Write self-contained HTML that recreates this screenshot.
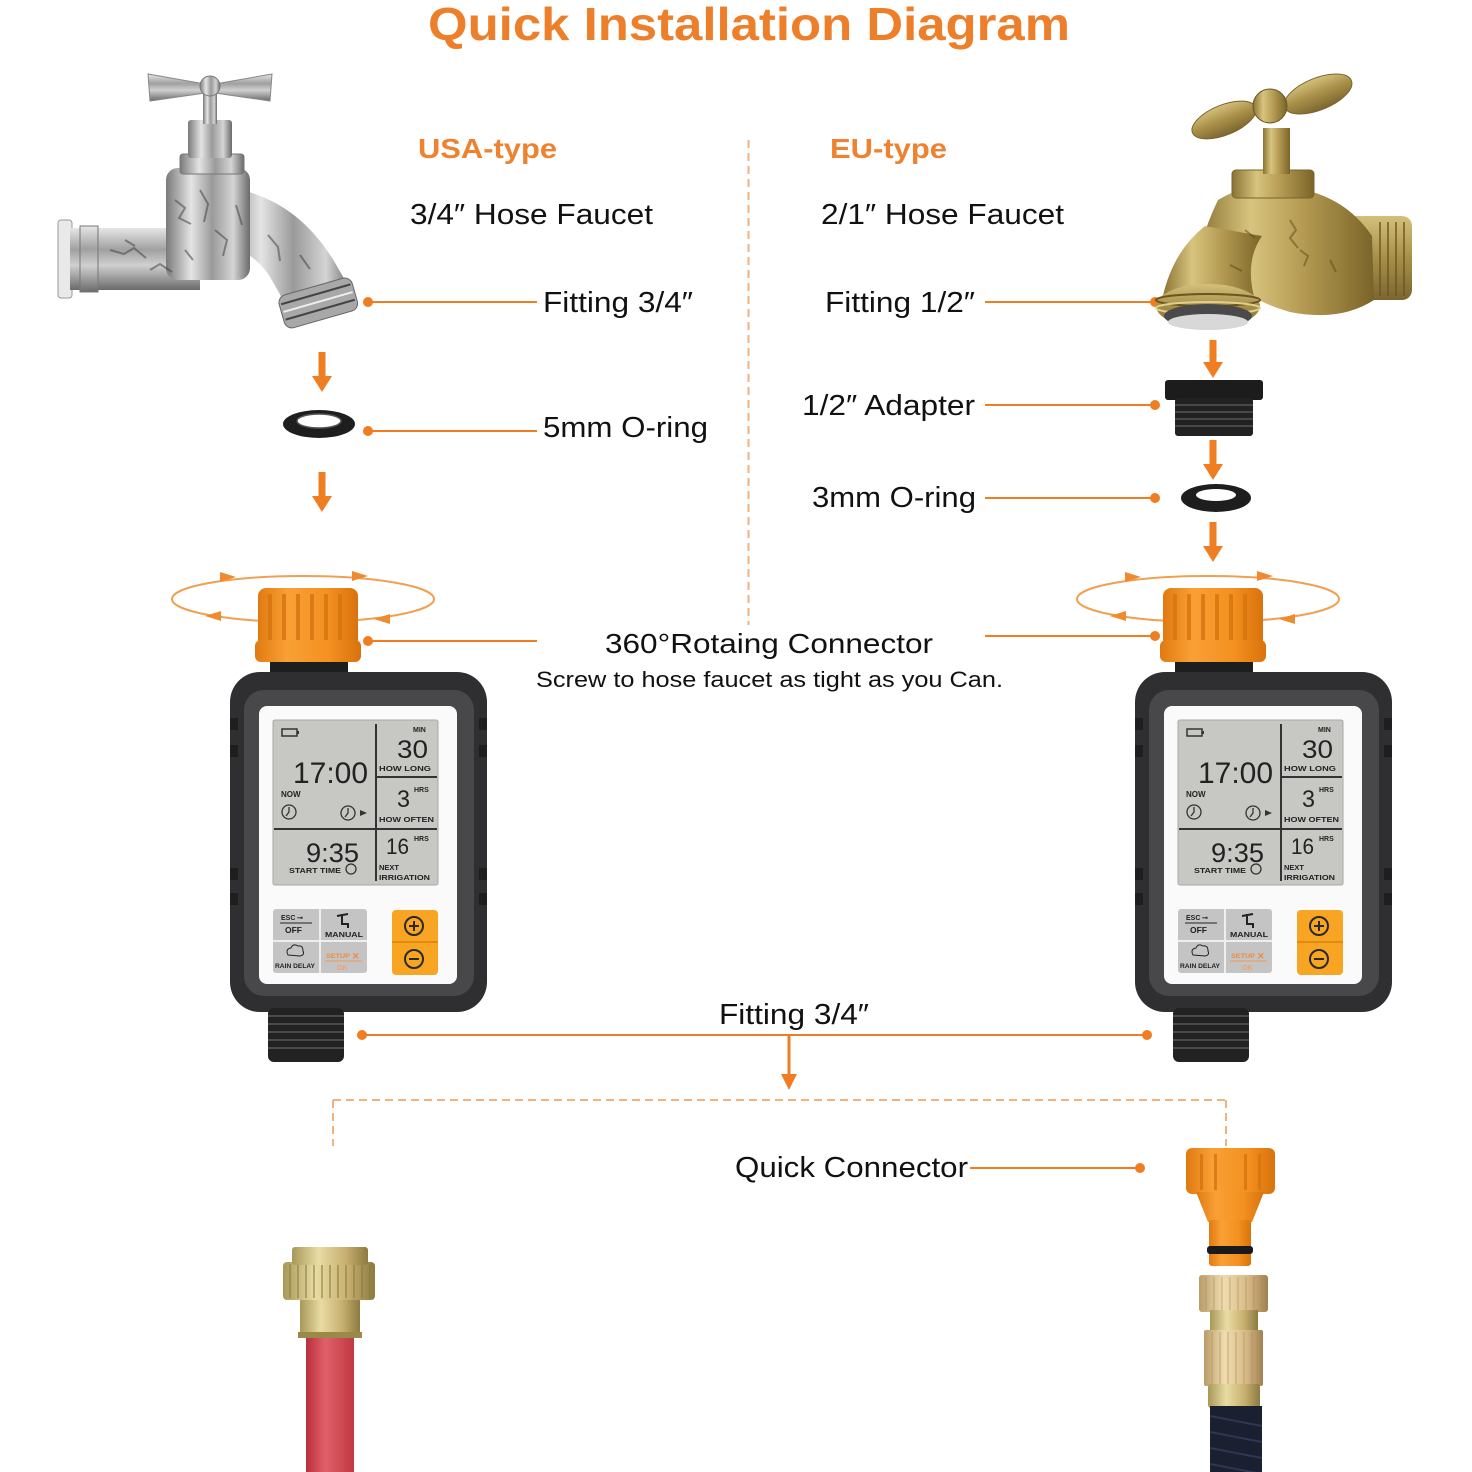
<!DOCTYPE html>
<html><head><meta charset="utf-8"><style>
html,body{margin:0;padding:0;background:#fff;}
svg{display:block;}
text{font-family:"Liberation Sans",Arial,sans-serif;}
</style></head><body>
<svg width="1472" height="1472" viewBox="0 0 1472 1472" xmlns="http://www.w3.org/2000/svg">
<defs>
<linearGradient id="chv" x1="0" y1="0" x2="0" y2="1">
<stop offset="0" stop-color="#e6e6e6"/><stop offset="0.35" stop-color="#a0a0a0"/><stop offset="0.6" stop-color="#d0d0d0"/><stop offset="1" stop-color="#6a6a6a"/></linearGradient>
<linearGradient id="chh" x1="0" y1="0" x2="1" y2="0">
<stop offset="0" stop-color="#7a7a7a"/><stop offset="0.3" stop-color="#e4e4e4"/><stop offset="0.55" stop-color="#9a9a9a"/><stop offset="0.8" stop-color="#d4d4d4"/><stop offset="1" stop-color="#6a6a6a"/></linearGradient>
<linearGradient id="brh" x1="0" y1="0" x2="1" y2="0">
<stop offset="0" stop-color="#8a7233"/><stop offset="0.3" stop-color="#d8c47e"/><stop offset="0.6" stop-color="#b49a52"/><stop offset="1" stop-color="#7a6428"/></linearGradient>
<linearGradient id="brv" x1="0" y1="0" x2="0" y2="1">
<stop offset="0" stop-color="#d4c07c"/><stop offset="0.5" stop-color="#a88f48"/><stop offset="1" stop-color="#7c6630"/></linearGradient>
<linearGradient id="nut" x1="0" y1="0" x2="1" y2="0">
<stop offset="0" stop-color="#e07a10"/><stop offset="0.3" stop-color="#f9a035"/><stop offset="0.7" stop-color="#f39020"/><stop offset="1" stop-color="#d9720c"/></linearGradient>
<linearGradient id="gold" x1="0" y1="0" x2="1" y2="0">
<stop offset="0" stop-color="#a89858"/><stop offset="0.35" stop-color="#e8dca4"/><stop offset="0.7" stop-color="#c8b070"/><stop offset="1" stop-color="#8c7a40"/></linearGradient>
<linearGradient id="tan" x1="0" y1="0" x2="1" y2="0">
<stop offset="0" stop-color="#b89c68"/><stop offset="0.35" stop-color="#f0dcb0"/><stop offset="0.7" stop-color="#d8bc88"/><stop offset="1" stop-color="#a08050"/></linearGradient>
<linearGradient id="red" x1="0" y1="0" x2="1" y2="0">
<stop offset="0" stop-color="#b8303c"/><stop offset="0.4" stop-color="#e0606a"/><stop offset="1" stop-color="#c03842"/></linearGradient>
</defs>

<!-- Title -->
<text x="428" y="40" font-size="46" font-weight="bold" fill="#ee7f2a" textLength="642" lengthAdjust="spacingAndGlyphs">Quick Installation Diagram</text>

<!-- Subtitles -->
<text x="418" y="158" font-size="28" font-weight="bold" fill="#ee8230" textLength="139" lengthAdjust="spacingAndGlyphs">USA-type</text>
<text x="830" y="158" font-size="28" font-weight="bold" fill="#ee8230" textLength="117" lengthAdjust="spacingAndGlyphs">EU-type</text>
<text x="410" y="224" font-size="29" fill="#111" textLength="243" lengthAdjust="spacingAndGlyphs">3/4″ Hose Faucet</text>
<text x="821" y="224" font-size="29" fill="#111" textLength="243" lengthAdjust="spacingAndGlyphs">2/1″ Hose Faucet</text>

<!-- divider -->
<line x1="748.5" y1="140" x2="748.5" y2="625" stroke="#f0b080" stroke-width="2" stroke-dasharray="8,5"/>

<!-- Labels -->
<g font-size="29" fill="#111">
<text x="543" y="312" textLength="150" lengthAdjust="spacingAndGlyphs">Fitting 3/4″</text>
<text x="543" y="437" textLength="165" lengthAdjust="spacingAndGlyphs">5mm O-ring</text>
<text x="825" y="312" textLength="150" lengthAdjust="spacingAndGlyphs">Fitting 1/2″</text>
<text x="802" y="415" textLength="173" lengthAdjust="spacingAndGlyphs">1/2″ Adapter</text>
<text x="812" y="507" textLength="164" lengthAdjust="spacingAndGlyphs">3mm O-ring</text>
<text x="605" y="653" font-size="28" textLength="328" lengthAdjust="spacingAndGlyphs">360°Rotaing Connector</text>
<text x="536" y="687" font-size="22" textLength="467" lengthAdjust="spacingAndGlyphs">Screw to hose faucet as tight as you Can.</text>
<text x="719" y="1024" textLength="150" lengthAdjust="spacingAndGlyphs">Fitting 3/4″</text>
<text x="735" y="1177" textLength="233" lengthAdjust="spacingAndGlyphs">Quick Connector</text>
</g>

<!-- leader lines -->
<g stroke="#ef7d22" stroke-width="2" fill="#ef7d22">
<line x1="368" y1="302" x2="537" y2="302"/><circle cx="368" cy="302" r="5" stroke="none"/>
<line x1="368" y1="431" x2="537" y2="431"/><circle cx="368" cy="431" r="5" stroke="none"/>
<line x1="985" y1="302" x2="1155" y2="302"/><circle cx="1155" cy="302" r="5" stroke="none"/>
<line x1="985" y1="405" x2="1155" y2="405"/><circle cx="1155" cy="405" r="5" stroke="none"/>
<line x1="985" y1="498" x2="1155" y2="498"/><circle cx="1155" cy="498" r="5" stroke="none"/>
<line x1="368" y1="641" x2="537" y2="641"/><circle cx="368" cy="641" r="5" stroke="none"/>
<line x1="985" y1="636" x2="1155" y2="636"/><circle cx="1155" cy="636" r="5" stroke="none"/>
<line x1="362" y1="1035" x2="1147" y2="1035"/><circle cx="362" cy="1035" r="5" stroke="none"/><circle cx="1147" cy="1035" r="5" stroke="none"/>
<line x1="970" y1="1168" x2="1140" y2="1168"/><circle cx="1140" cy="1168" r="5" stroke="none"/>
</g>

<!-- arrows -->
<g fill="#ef7d22">
<rect x="318.5" y="352" width="7" height="26"/><polygon points="312,376 332,376 322,392"/>
<rect x="318.5" y="472" width="7" height="26"/><polygon points="312,496 332,496 322,512"/>
<rect x="1209.5" y="340" width="7" height="24"/><polygon points="1203,362 1223,362 1213,378"/>
<rect x="1209.5" y="440" width="7" height="26"/><polygon points="1203,464 1223,464 1213,480"/>
<rect x="1209.5" y="522" width="7" height="26"/><polygon points="1203,546 1223,546 1213,562"/>
<rect x="787.5" y="1036" width="3" height="42"/><polygon points="781,1074 797,1074 789,1090"/>
</g>

<!-- dashed bracket -->
<g stroke="#f2b27c" stroke-width="2" stroke-dasharray="8,5" fill="none">
<line x1="333" y1="1100" x2="1226" y2="1100"/>
<line x1="333" y1="1100" x2="333" y2="1146"/>
<line x1="1226" y1="1100" x2="1226" y2="1146"/>
</g>

<!-- Silver faucet -->
<g>
<rect x="58" y="220" width="14" height="78" rx="3" fill="#e9e9e9" stroke="#9a9a9a"/>
<rect x="70" y="228" width="130" height="62" fill="url(#chv)"/>
<rect x="80" y="226" width="18" height="66" fill="url(#chv)" stroke="#777" stroke-width="1"/>
<path d="M 232 188 Q 300 200 338 268 L 352 292 L 290 312 L 274 284 Q 258 252 222 244 Z" fill="url(#chh)"/>
<rect x="166" y="168" width="84" height="112" rx="12" fill="url(#chh)"/>
<path d="M 175 200 l 10 8 l -6 10 l 12 6 M 200 190 l 8 14 l -4 18 M 215 230 l 12 10 l -4 16 M 236 205 l 6 20 M 110 250 l 14 4 l 10 -6 l 12 10 M 150 270 l 10 -6 l 12 8 M 268 235 l 10 12 l 2 14 M 300 255 l 10 14 M 185 250 l 8 10 M 125 240 l 10 6" stroke="#444" stroke-width="2" fill="none" opacity="0.55"/>
<g transform="rotate(-16 318 302)">
<rect x="280" y="286" width="76" height="34" rx="8" fill="#a8a8a8" stroke="#666"/>
<line x1="282" y1="294" x2="354" y2="294" stroke="#444" stroke-width="2"/>
<line x1="282" y1="302" x2="354" y2="302" stroke="#eee" stroke-width="2"/>
<line x1="282" y1="310" x2="354" y2="310" stroke="#444" stroke-width="2"/>
</g>
<rect x="180" y="154" width="64" height="20" rx="3" fill="url(#chh)" stroke="#777"/>
<rect x="188" y="120" width="44" height="38" rx="3" fill="url(#chh)"/>
<rect x="203" y="92" width="14" height="32" fill="url(#chh)"/>
<path d="M 148 74 L 150 101 L 205 93 L 215 93 L 270 101 L 272 74 L 215 84 L 205 84 Z" fill="url(#chv)" stroke="#888"/>
<circle cx="210" cy="86" r="10" fill="url(#chh)" stroke="#777"/>
</g>

<!-- O-ring left -->
<ellipse cx="319" cy="424" rx="36" ry="14" fill="#1e1e1e"/>
<ellipse cx="319" cy="421" rx="22" ry="7" fill="#fff"/>
<ellipse cx="319" cy="421" rx="22" ry="7" fill="none" stroke="#555" stroke-width="1.5"/>

<!-- Brass faucet -->
<g>
<rect x="1322" y="216" width="90" height="84" rx="10" fill="url(#brv)"/>
<g stroke="#6a5520" stroke-width="2" opacity="0.7">
<line x1="1380" y1="222" x2="1380" y2="296"/><line x1="1388" y1="222" x2="1388" y2="296"/><line x1="1396" y1="222" x2="1396" y2="296"/><line x1="1404" y1="222" x2="1404" y2="296"/>
</g>
<path d="M 1218 200 Q 1250 180 1295 188 Q 1345 196 1372 236 L 1374 300 Q 1340 322 1290 312 Q 1262 304 1246 292 L 1200 300 Q 1190 258 1218 200 Z" fill="url(#brh)"/>
<path d="M 1205 226 Q 1172 252 1162 300 L 1255 300 Q 1244 262 1262 236 Z" fill="url(#brh)"/>
<path d="M 1290 220 l 6 10 l -6 8 l 8 10 M 1300 250 l 8 6 l -4 10 M 1245 230 l 10 8 M 1230 265 l 12 6 M 1330 260 l 6 12" stroke="#5a4818" stroke-width="2" fill="none" opacity="0.5"/>
<ellipse cx="1208" cy="306" rx="52" ry="22" fill="url(#brv)"/>
<ellipse cx="1208" cy="300" rx="52" ry="6" fill="none" stroke="#6a5520" stroke-width="2"/>
<ellipse cx="1208" cy="308" rx="52" ry="6" fill="none" stroke="#e0d090" stroke-width="2"/>
<ellipse cx="1208" cy="316" rx="44" ry="12" fill="#4a4a4a"/>
<ellipse cx="1208" cy="322" rx="40" ry="8" fill="#d8d8d8"/>
<rect x="1232" y="170" width="82" height="28" rx="4" fill="url(#brh)" stroke="#7a6428"/>
<rect x="1263" y="128" width="27" height="46" fill="url(#brh)"/>
<ellipse cx="1224" cy="120" rx="34" ry="15" transform="rotate(-22 1224 120)" fill="url(#brv)" stroke="#7a6428"/>
<ellipse cx="1318" cy="94" rx="36" ry="16" transform="rotate(-22 1318 94)" fill="url(#brv)" stroke="#7a6428"/>
<circle cx="1270" cy="106" r="17" fill="url(#brh)" stroke="#6a5520"/>
</g>

<!-- Adapter -->
<rect x="1165" y="380" width="98" height="20" rx="3" fill="#1c1c1c"/>
<rect x="1175" y="398" width="78" height="38" rx="3" fill="#222"/>
<g stroke="#555" stroke-width="1.5">
<line x1="1175" y1="405" x2="1253" y2="405"/><line x1="1175" y1="412" x2="1253" y2="412"/><line x1="1175" y1="419" x2="1253" y2="419"/><line x1="1175" y1="426" x2="1253" y2="426"/>
</g>
<!-- O-ring right -->
<ellipse cx="1216" cy="498" rx="35" ry="14" fill="#1e1e1e"/>
<ellipse cx="1216" cy="495" rx="20" ry="6" fill="#fff"/>

<!-- Rotation ellipses -->
<g stroke="#f0a050" stroke-width="2" fill="none">
<ellipse cx="303" cy="599" rx="131" ry="23"/>
<ellipse cx="1208" cy="599" rx="131" ry="23"/>
</g>
<g fill="#ef8a2e">
<polygon points="220,572 236,577 220,582"/>
<polygon points="352,571 368,576 352,581"/>
<polygon points="221,611 205,616 221,621"/>
<polygon points="390,614 374,619 390,624"/>
<polygon points="1125,572 1141,577 1125,582"/>
<polygon points="1257,571 1273,576 1257,581"/>
<polygon points="1126,611 1110,616 1126,621"/>
<polygon points="1295,614 1279,619 1295,624"/>
</g>

<!-- Timer left -->
<g>
<rect x="270" y="655" width="78" height="20" fill="#1e1e1e"/>
<rect x="258" y="588" width="100" height="60" rx="8" fill="url(#nut)"/>
<rect x="255" y="640" width="106" height="22" rx="6" fill="url(#nut)"/>
<g fill="#d67410" opacity="0.8">
<rect x="268" y="594" width="4" height="46"/><rect x="282" y="594" width="4" height="46"/><rect x="296" y="594" width="4" height="46"/><rect x="310" y="594" width="4" height="46"/><rect x="324" y="594" width="4" height="46"/><rect x="338" y="594" width="4" height="46"/>
</g>
<rect x="230" y="672" width="257" height="340" rx="30" fill="#2f2f31"/>
<rect x="244" y="690" width="230" height="306" rx="20" fill="#48484a"/>
<g fill="#1e1e1e">
<rect x="230" y="718" width="8" height="12"/><rect x="230" y="745" width="8" height="12"/><rect x="230" y="868" width="8" height="12"/><rect x="230" y="893" width="8" height="12"/>
<rect x="479" y="718" width="8" height="12"/><rect x="479" y="745" width="8" height="12"/><rect x="479" y="868" width="8" height="12"/><rect x="479" y="893" width="8" height="12"/>
</g>
<rect x="259" y="706" width="198" height="278" rx="8" fill="#fafafa"/>
<rect x="273" y="720" width="165" height="165" rx="2" fill="#c7c8c4" stroke="#a8a8a4"/>
<g stroke="#333" stroke-width="2">
<line x1="376" y1="724" x2="376" y2="881"/>
<line x1="376" y1="777" x2="437" y2="777"/>
<line x1="274" y1="829" x2="437" y2="829"/>
</g>
<rect x="282" y="729" width="15" height="7" fill="none" stroke="#333" stroke-width="1.5"/>
<rect x="297" y="731" width="2" height="3" fill="#333"/>
<g fill="#222" font-family="'DejaVu Sans Mono','Liberation Mono',monospace">
<text x="293" y="783" font-size="30" textLength="75" lengthAdjust="spacingAndGlyphs">17:00</text>
<text x="397" y="758" font-size="25" textLength="31" lengthAdjust="spacingAndGlyphs">30</text>
<text x="397" y="807" font-size="24" textLength="13" lengthAdjust="spacingAndGlyphs">3</text>
<text x="306" y="862" font-size="27" textLength="53" lengthAdjust="spacingAndGlyphs">9:35</text>
<text x="386" y="854" font-size="22" textLength="23" lengthAdjust="spacingAndGlyphs">16</text>
</g>
<g fill="#222" font-weight="bold">
<text x="281" y="797" font-size="8">NOW</text>
<text x="413" y="732" font-size="7">MIN</text>
<text x="379" y="771" font-size="7.5" textLength="52" lengthAdjust="spacingAndGlyphs">HOW LONG</text>
<text x="414" y="792" font-size="7">HRS</text>
<text x="379" y="822" font-size="7.5" textLength="55" lengthAdjust="spacingAndGlyphs">HOW OFTEN</text>
<text x="414" y="841" font-size="7">HRS</text>
<text x="379" y="870" font-size="7.5">NEXT</text>
<text x="379" y="880" font-size="7.5" textLength="51" lengthAdjust="spacingAndGlyphs">IRRIGATION</text>
<text x="289" y="873" font-size="7.5" textLength="52" lengthAdjust="spacingAndGlyphs">START TIME</text>
</g>
<g fill="none" stroke="#333" stroke-width="1.3">
<circle cx="289" cy="812" r="7"/><path d="M 289 807 L 289 812 L 286 816"/>
<circle cx="348" cy="813" r="7"/><path d="M 348 808 L 348 813 L 345 817"/>
<circle cx="351" cy="869" r="5"/>
</g>
<polygon points="360,810 367,813 360,816" fill="#333"/>
<rect x="273" y="909" width="94" height="64" rx="3" fill="#c4c4c4"/>
<line x1="320" y1="909" x2="320" y2="973" stroke="#eee" stroke-width="2"/>
<line x1="273" y1="941" x2="367" y2="941" stroke="#eee" stroke-width="2"/>
<g font-weight="bold" fill="#222">
<text x="281" y="920" font-size="7">ESC</text>
<text x="297" y="920" font-size="7">⊸</text>
<line x1="280" y1="923" x2="312" y2="923" stroke="#222" stroke-width="1"/>
<text x="285" y="933" font-size="8.5">OFF</text>
<text x="325" y="937" font-size="7" textLength="38" lengthAdjust="spacingAndGlyphs">MANUAL</text>
<text x="275" y="968" font-size="6" textLength="40" lengthAdjust="spacingAndGlyphs">RAIN DELAY</text>
<text x="326" y="958" font-size="6" fill="#ef8a40" textLength="24" lengthAdjust="spacingAndGlyphs">SETUP</text>
<text x="352" y="959" font-size="9" fill="#ef8a40">✕</text>
<line x1="325" y1="961" x2="362" y2="961" stroke="#ef9a5a" stroke-width="1"/>
<text x="337" y="970" font-size="7" fill="#f0a070">OK</text>
</g>
<path d="M 337 916 L 348 914 M 342 914 L 342 924 L 348 924 L 348 928" stroke="#222" stroke-width="2" fill="none"/>
<path d="M 288 955 q -3 -6 3 -7 q 2 -5 7 -2 q 5 -1 5 5 q 2 4 -3 5 z" fill="none" stroke="#222" stroke-width="1"/>
<rect x="392" y="910" width="46" height="65" rx="4" fill="#f7a522"/>
<line x1="392" y1="942" x2="438" y2="942" stroke="#e08a12" stroke-width="2"/>
<g fill="none" stroke="#2a2a2a" stroke-width="2">
<circle cx="414" cy="926" r="9"/><path d="M 409 926 L 419 926 M 414 921 L 414 931"/>
<circle cx="414" cy="959" r="9"/><path d="M 409 959 L 419 959"/>
</g>
<rect x="268" y="1008" width="76" height="54" rx="6" fill="#222"/>
<g stroke="#4a4a4a" stroke-width="2">
<line x1="268" y1="1016" x2="344" y2="1016"/><line x1="268" y1="1024" x2="344" y2="1024"/><line x1="268" y1="1032" x2="344" y2="1032"/><line x1="268" y1="1040" x2="344" y2="1040"/><line x1="268" y1="1048" x2="344" y2="1048"/>
</g>
</g>

<!-- Timer right -->
<g transform="translate(905,0)">
<rect x="270" y="655" width="78" height="20" fill="#1e1e1e"/>
<rect x="258" y="588" width="100" height="60" rx="8" fill="url(#nut)"/>
<rect x="255" y="640" width="106" height="22" rx="6" fill="url(#nut)"/>
<g fill="#d67410" opacity="0.8">
<rect x="268" y="594" width="4" height="46"/><rect x="282" y="594" width="4" height="46"/><rect x="296" y="594" width="4" height="46"/><rect x="310" y="594" width="4" height="46"/><rect x="324" y="594" width="4" height="46"/><rect x="338" y="594" width="4" height="46"/>
</g>
<rect x="230" y="672" width="257" height="340" rx="30" fill="#2f2f31"/>
<rect x="244" y="690" width="230" height="306" rx="20" fill="#48484a"/>
<g fill="#1e1e1e">
<rect x="230" y="718" width="8" height="12"/><rect x="230" y="745" width="8" height="12"/><rect x="230" y="868" width="8" height="12"/><rect x="230" y="893" width="8" height="12"/>
<rect x="479" y="718" width="8" height="12"/><rect x="479" y="745" width="8" height="12"/><rect x="479" y="868" width="8" height="12"/><rect x="479" y="893" width="8" height="12"/>
</g>
<rect x="259" y="706" width="198" height="278" rx="8" fill="#fafafa"/>
<rect x="273" y="720" width="165" height="165" rx="2" fill="#c7c8c4" stroke="#a8a8a4"/>
<g stroke="#333" stroke-width="2">
<line x1="376" y1="724" x2="376" y2="881"/>
<line x1="376" y1="777" x2="437" y2="777"/>
<line x1="274" y1="829" x2="437" y2="829"/>
</g>
<rect x="282" y="729" width="15" height="7" fill="none" stroke="#333" stroke-width="1.5"/>
<rect x="297" y="731" width="2" height="3" fill="#333"/>
<g fill="#222" font-family="'DejaVu Sans Mono','Liberation Mono',monospace">
<text x="293" y="783" font-size="30" textLength="75" lengthAdjust="spacingAndGlyphs">17:00</text>
<text x="397" y="758" font-size="25" textLength="31" lengthAdjust="spacingAndGlyphs">30</text>
<text x="397" y="807" font-size="24" textLength="13" lengthAdjust="spacingAndGlyphs">3</text>
<text x="306" y="862" font-size="27" textLength="53" lengthAdjust="spacingAndGlyphs">9:35</text>
<text x="386" y="854" font-size="22" textLength="23" lengthAdjust="spacingAndGlyphs">16</text>
</g>
<g fill="#222" font-weight="bold">
<text x="281" y="797" font-size="8">NOW</text>
<text x="413" y="732" font-size="7">MIN</text>
<text x="379" y="771" font-size="7.5" textLength="52" lengthAdjust="spacingAndGlyphs">HOW LONG</text>
<text x="414" y="792" font-size="7">HRS</text>
<text x="379" y="822" font-size="7.5" textLength="55" lengthAdjust="spacingAndGlyphs">HOW OFTEN</text>
<text x="414" y="841" font-size="7">HRS</text>
<text x="379" y="870" font-size="7.5">NEXT</text>
<text x="379" y="880" font-size="7.5" textLength="51" lengthAdjust="spacingAndGlyphs">IRRIGATION</text>
<text x="289" y="873" font-size="7.5" textLength="52" lengthAdjust="spacingAndGlyphs">START TIME</text>
</g>
<g fill="none" stroke="#333" stroke-width="1.3">
<circle cx="289" cy="812" r="7"/><path d="M 289 807 L 289 812 L 286 816"/>
<circle cx="348" cy="813" r="7"/><path d="M 348 808 L 348 813 L 345 817"/>
<circle cx="351" cy="869" r="5"/>
</g>
<polygon points="360,810 367,813 360,816" fill="#333"/>
<rect x="273" y="909" width="94" height="64" rx="3" fill="#c4c4c4"/>
<line x1="320" y1="909" x2="320" y2="973" stroke="#eee" stroke-width="2"/>
<line x1="273" y1="941" x2="367" y2="941" stroke="#eee" stroke-width="2"/>
<g font-weight="bold" fill="#222">
<text x="281" y="920" font-size="7">ESC</text>
<text x="297" y="920" font-size="7">⊸</text>
<line x1="280" y1="923" x2="312" y2="923" stroke="#222" stroke-width="1"/>
<text x="285" y="933" font-size="8.5">OFF</text>
<text x="325" y="937" font-size="7" textLength="38" lengthAdjust="spacingAndGlyphs">MANUAL</text>
<text x="275" y="968" font-size="6" textLength="40" lengthAdjust="spacingAndGlyphs">RAIN DELAY</text>
<text x="326" y="958" font-size="6" fill="#ef8a40" textLength="24" lengthAdjust="spacingAndGlyphs">SETUP</text>
<text x="352" y="959" font-size="9" fill="#ef8a40">✕</text>
<line x1="325" y1="961" x2="362" y2="961" stroke="#ef9a5a" stroke-width="1"/>
<text x="337" y="970" font-size="7" fill="#f0a070">OK</text>
</g>
<path d="M 337 916 L 348 914 M 342 914 L 342 924 L 348 924 L 348 928" stroke="#222" stroke-width="2" fill="none"/>
<path d="M 288 955 q -3 -6 3 -7 q 2 -5 7 -2 q 5 -1 5 5 q 2 4 -3 5 z" fill="none" stroke="#222" stroke-width="1"/>
<rect x="392" y="910" width="46" height="65" rx="4" fill="#f7a522"/>
<line x1="392" y1="942" x2="438" y2="942" stroke="#e08a12" stroke-width="2"/>
<g fill="none" stroke="#2a2a2a" stroke-width="2">
<circle cx="414" cy="926" r="9"/><path d="M 409 926 L 419 926 M 414 921 L 414 931"/>
<circle cx="414" cy="959" r="9"/><path d="M 409 959 L 419 959"/>
</g>
<rect x="268" y="1008" width="76" height="54" rx="6" fill="#222"/>
<g stroke="#4a4a4a" stroke-width="2">
<line x1="268" y1="1016" x2="344" y2="1016"/><line x1="268" y1="1024" x2="344" y2="1024"/><line x1="268" y1="1032" x2="344" y2="1032"/><line x1="268" y1="1040" x2="344" y2="1040"/><line x1="268" y1="1048" x2="344" y2="1048"/>
</g>
</g>

<!-- Red hose (left bottom) -->
<rect x="306" y="1334" width="48" height="138" fill="url(#red)"/>
<rect x="300" y="1298" width="60" height="40" rx="3" fill="url(#gold)"/>
<rect x="298" y="1332" width="64" height="6" fill="#9a8a48"/>
<rect x="283" y="1262" width="92" height="38" rx="4" fill="url(#gold)"/>
<g stroke="#8a7a3a" stroke-width="1.5" opacity="0.7">
<line x1="290" y1="1264" x2="290" y2="1298"/><line x1="298" y1="1264" x2="298" y2="1298"/><line x1="306" y1="1264" x2="306" y2="1298"/><line x1="314" y1="1264" x2="314" y2="1298"/><line x1="322" y1="1264" x2="322" y2="1298"/><line x1="330" y1="1264" x2="330" y2="1298"/><line x1="338" y1="1264" x2="338" y2="1298"/><line x1="346" y1="1264" x2="346" y2="1298"/><line x1="354" y1="1264" x2="354" y2="1298"/><line x1="362" y1="1264" x2="362" y2="1298"/><line x1="370" y1="1264" x2="370" y2="1298"/>
</g>
<rect x="292" y="1247" width="76" height="18" rx="3" fill="url(#gold)"/>

<!-- Quick connector (right bottom) -->
<rect x="1186" y="1148" width="89" height="46" rx="6" fill="url(#nut)"/>
<g fill="#d67410" opacity="0.8">
<rect x="1200" y="1154" width="3" height="36"/><rect x="1214" y="1154" width="3" height="36"/><rect x="1244" y="1154" width="3" height="36"/><rect x="1258" y="1154" width="3" height="36"/>
</g>
<path d="M 1196 1192 L 1264 1192 L 1252 1222 L 1208 1222 Z" fill="url(#nut)"/>
<rect x="1209" y="1220" width="42" height="46" rx="3" fill="url(#nut)"/>
<rect x="1207" y="1246" width="46" height="8" rx="3" fill="#1a1a1a"/>
<rect x="1199" y="1275" width="69" height="37" rx="3" fill="url(#tan)"/>
<g stroke="#a88a5a" stroke-width="1" opacity="0.6">
<line x1="1206" y1="1277" x2="1206" y2="1310"/><line x1="1214" y1="1277" x2="1214" y2="1310"/><line x1="1222" y1="1277" x2="1222" y2="1310"/><line x1="1230" y1="1277" x2="1230" y2="1310"/><line x1="1238" y1="1277" x2="1238" y2="1310"/><line x1="1246" y1="1277" x2="1246" y2="1310"/><line x1="1254" y1="1277" x2="1254" y2="1310"/><line x1="1262" y1="1277" x2="1262" y2="1310"/>
</g>
<rect x="1210" y="1310" width="48" height="22" fill="url(#gold)"/>
<rect x="1204" y="1330" width="59" height="56" rx="2" fill="url(#tan)"/>
<g stroke="#a88a5a" stroke-width="1" opacity="0.6">
<line x1="1212" y1="1332" x2="1212" y2="1384"/><line x1="1220" y1="1332" x2="1220" y2="1384"/><line x1="1228" y1="1332" x2="1228" y2="1384"/><line x1="1236" y1="1332" x2="1236" y2="1384"/><line x1="1244" y1="1332" x2="1244" y2="1384"/><line x1="1252" y1="1332" x2="1252" y2="1384"/>
</g>
<rect x="1208" y="1384" width="52" height="24" rx="3" fill="url(#gold)"/>
<rect x="1210" y="1406" width="52" height="66" fill="#1b2030"/>
<g stroke="#3a4060" stroke-width="2" opacity="0.7">
<line x1="1210" y1="1416" x2="1262" y2="1426"/><line x1="1210" y1="1432" x2="1262" y2="1442"/><line x1="1210" y1="1448" x2="1262" y2="1458"/><line x1="1210" y1="1464" x2="1262" y2="1474"/>
</g>
</svg>
</body></html>
